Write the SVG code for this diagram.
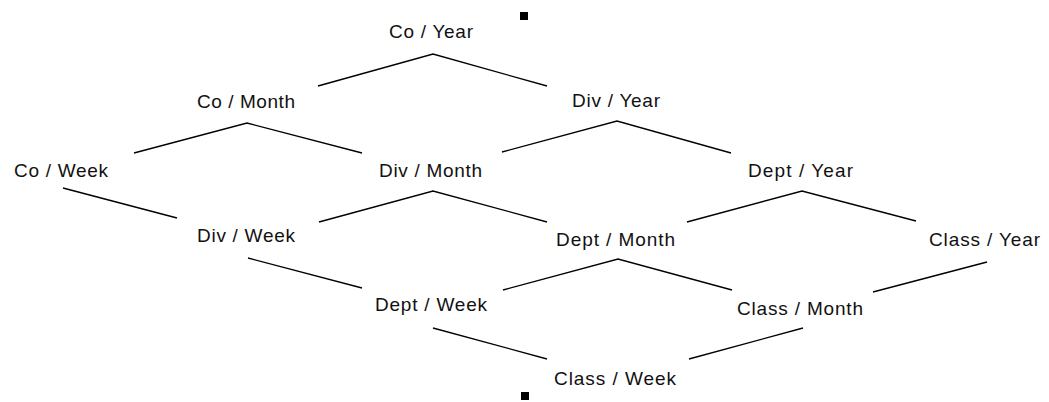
<svg xmlns="http://www.w3.org/2000/svg" width="1049" height="402" viewBox="0 0 1049 402">
<style>
.bg{fill:#fff}
.lbl{font-family:"Liberation Sans",Arial,sans-serif;font-size:19px;fill:#111}
.edge{fill:none;stroke:#000;stroke-width:1.3;stroke-linejoin:miter}
.mark{fill:#000}
</style>
<rect class="bg" x="0" y="0" width="1049" height="402"/>
<g id="connectors">
<polyline class="edge" points="318,86 433,54 547,86"/>
<polyline class="edge" points="134,153 247,123 362,153"/>
<polyline class="edge" points="502,152 617,121 731,153"/>
<polyline class="edge" points="63,188 177,218"/>
<polyline class="edge" points="319,222 433,191 547,222"/>
<polyline class="edge" points="687,222 802,191 916,221"/>
<polyline class="edge" points="248,258 362,288"/>
<polyline class="edge" points="503,290 618,259 732,290"/>
<polyline class="edge" points="987,262 873,292"/>
<polyline class="edge" points="433,328 547,359"/>
<polyline class="edge" points="689,359 803,328"/>
</g>
<rect class="mark" x="520" y="12" width="8" height="8"/>
<rect class="mark" x="521" y="392" width="8" height="8"/>
<g id="co-year"><text class="lbl" x="389" y="38" textLength="84" lengthAdjust="spacing">Co / Year</text></g>
<g id="co-month"><text class="lbl" x="197" y="108" textLength="98" lengthAdjust="spacing">Co / Month</text></g>
<g id="div-year"><text class="lbl" x="572" y="107" textLength="88" lengthAdjust="spacing">Div / Year</text></g>
<g id="co-week"><text class="lbl" x="14" y="177" textLength="94" lengthAdjust="spacing">Co / Week</text></g>
<g id="div-month"><text class="lbl" x="379" y="177" textLength="103" lengthAdjust="spacing">Div / Month</text></g>
<g id="dept-year"><text class="lbl" x="748" y="177" textLength="105" lengthAdjust="spacing">Dept / Year</text></g>
<g id="div-week"><text class="lbl" x="197" y="242" textLength="98" lengthAdjust="spacing">Div / Week</text></g>
<g id="dept-month"><text class="lbl" x="556" y="246" textLength="119" lengthAdjust="spacing">Dept / Month</text></g>
<g id="class-year"><text class="lbl" x="929" y="246" textLength="111" lengthAdjust="spacing">Class / Year</text></g>
<g id="dept-week"><text class="lbl" x="375" y="311" textLength="112" lengthAdjust="spacing">Dept / Week</text></g>
<g id="class-month"><text class="lbl" x="737" y="315" textLength="126" lengthAdjust="spacing">Class / Month</text></g>
<g id="class-week"><text class="lbl" x="554" y="385" textLength="122" lengthAdjust="spacing">Class / Week</text></g>
</svg>
